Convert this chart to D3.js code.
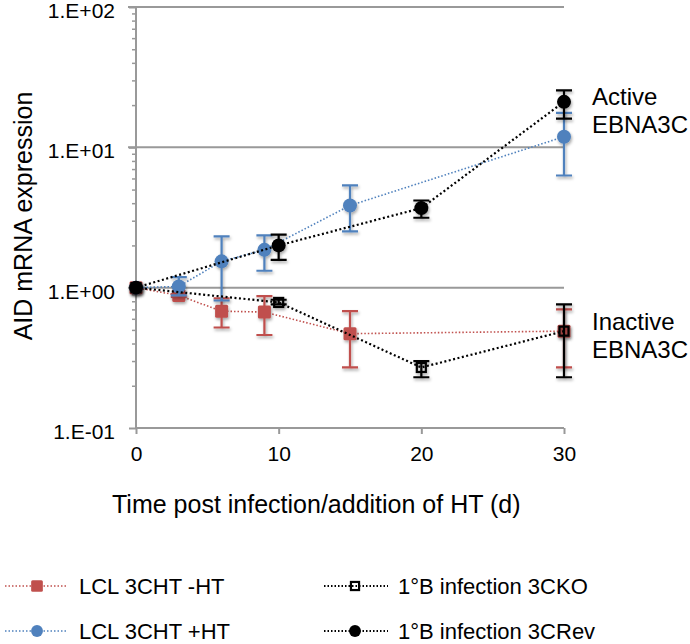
<!DOCTYPE html>
<html>
<head>
<meta charset="utf-8">
<script src="https://cdn.jsdelivr.net/npm/d3@7"></script>
<style>
  html, body { margin: 0; padding: 0; background: #fff; }
  svg { display: block; font-family: "Liberation Sans", Arial, sans-serif; }
</style>
</head>
<body>
<svg id="chart" width="690" height="644"></svg>
<script>
// ---- data ----
const redX  = [0, 3, 6, 9, 15, 30];
const redY  = [1.0, 0.88, 0.68, 0.67, 0.47, 0.49];
const redLo = [1.0, 0.86, 0.52, 0.46, 0.27, 0.27];
const redHi = [1.0, 0.90, 0.84, 0.87, 0.68, 0.70];

const blueX  = [0, 3, 6, 9, 15, 30];
const blueY  = [1.0, 1.02, 1.54, 1.86, 3.85, 11.9];
const blueLo = [1.0, 0.88, 0.81, 1.32, 2.52, 6.3];
const blueHi = [1.0, 1.19, 2.32, 2.36, 5.35, 17.6];

const koX  = [0, 10, 20, 30];
const koY  = [1.0, 0.785, 0.27, 0.49];
const koLo = [1.0, 0.76, 0.23, 0.23];
const koHi = [1.0, 0.82, 0.30, 0.76];

const revX  = [0, 10, 20, 30];
const revY  = [1.0, 2.0, 3.69, 21.1];
const revLo = [1.0, 1.58, 3.15, 16.0];
const revHi = [1.0, 2.39, 4.18, 25.5];

const seriesNames = ["LCL 3CHT -HT", "LCL 3CHT +HT", "1°B infection 3CKO", "1°B infection 3CRev"];
const xTicks = [0, 10, 20, 30];
const yMajor = [0.1, 1, 10, 100];
const yLabels = ["1.E-01", "1.E+00", "1.E+01", "1.E+02"];
const xTitle = "Time post infection/addition of HT (d)";
const yTitle = "AID mRNA expression";
const annotActive = ["Active", "EBNA3C"];
const annotInactive = ["Inactive", "EBNA3C"];

// ---- layout ----
const svg = d3.select("#chart");
const x = d3.scaleLinear().domain([0, 30]).range([136, 564]);
const y = d3.scaleLog().domain([0.1, 100]).range([428, 7]);
const grey = "#999999";

const defs = svg.append("defs");
const f = defs.append("filter").attr("id", "sh").attr("x", "-50%").attr("y", "-50%").attr("width", "200%").attr("height", "200%");
f.append("feDropShadow").attr("dx", 1).attr("dy", 2).attr("stdDeviation", 1.6)
  .attr("flood-color", "#000").attr("flood-opacity", 0.35);

// gridlines
svg.append("g").selectAll("line").data([1, 10, 100]).join("line")
  .attr("x1", 128).attr("x2", x(30))
  .attr("y1", d => y(d)).attr("y2", d => y(d))
  .attr("stroke", grey).attr("stroke-width", 2);

// minor ticks
const minor = [];
[0.1, 1, 10].forEach(b => { for (let k = 2; k <= 9; k++) minor.push(b * k); });
const yMinorAxis = d3.axisLeft(y).tickValues(minor).tickSize(4).tickFormat("");
const gMin = svg.append("g").attr("transform", `translate(${x(0)},0)`).call(yMinorAxis);
gMin.selectAll("line").attr("stroke", grey).attr("stroke-width", 1.5);
gMin.select(".domain").remove();

const yAxis = d3.axisLeft(y).tickValues(yMajor).tickSize(7).tickPadding(14)
  .tickFormat((d, i) => yLabels[i]);
const gY = svg.append("g").attr("transform", `translate(${x(0)},0)`).call(yAxis);
gY.select(".domain").attr("stroke", grey).attr("stroke-width", 2).attr("d", `M0,${y(0.1)}V${y(100)}`);
gY.selectAll(".tick line").attr("stroke", grey).attr("stroke-width", 2);
gY.selectAll(".tick text").attr("font-size", 21).attr("fill", "#000")
  .attr("font-family", "Liberation Sans, Arial, sans-serif").attr("dy", "0.5em");

const xAxis = d3.axisBottom(x).tickValues(xTicks).tickSize(6).tickPadding(12);
const gX = svg.append("g").attr("transform", `translate(0,${y(0.1)})`).call(xAxis);
gX.select(".domain").attr("stroke", grey).attr("stroke-width", 2).attr("d", `M${x(0)},0H${x(30)}`);
gX.selectAll(".tick line").attr("stroke", grey).attr("stroke-width", 2);
gX.selectAll(".tick text").attr("font-size", 21).attr("fill", "#000")
  .attr("font-family", "Liberation Sans, Arial, sans-serif");

// titles
svg.append("text").attr("x", 112).attr("y", 513).attr("font-size", 25).text(xTitle);
svg.append("text").attr("transform", "translate(32,216) rotate(-90)")
  .attr("text-anchor", "middle").attr("font-size", 25).text(yTitle);

// annotations
svg.append("g").selectAll("text").data(annotActive).join("text")
  .attr("x", 592).attr("y", (d, i) => 105 + i * 28).attr("font-size", 24).text(d => d);
svg.append("g").selectAll("text").data(annotInactive).join("text")
  .attr("x", 592).attr("y", (d, i) => 330 + i * 28).attr("font-size", 24).text(d => d);

// ---- series ----
const series = [
  { xs: redX, ys: redY, lo: redLo, hi: redHi, color: "#c0504d", marker: "square", dash: "1.5,2", lw: 1.6 },
  { xs: blueX, ys: blueY, lo: blueLo, hi: blueHi, color: "#4f81bd", marker: "circle", dash: "1.5,2", lw: 1.6 },
  { xs: koX, ys: koY, lo: koLo, hi: koHi, color: "#000", marker: "open", dash: "2,2.5", lw: 2.2 },
  { xs: revX, ys: revY, lo: revLo, hi: revHi, color: "#000", marker: "circle", dash: "2,2.5", lw: 2.2 }
];

function drawMarker(g, type, color, cx, cy, big) {
  const s = big || 1;
  if (type === "square") {
    g.append("rect").attr("x", cx - 6.5 * s).attr("y", cy - 6.5 * s).attr("width", 13 * s).attr("height", 13 * s)
      .attr("rx", 1.5).attr("fill", color);
  } else if (type === "circle") {
    g.append("circle").attr("cx", cx).attr("cy", cy).attr("r", 7 * s).attr("fill", color);
  } else {
    g.append("rect").attr("x", cx - 4.5 * s).attr("y", cy - 4.5 * s).attr("width", 9 * s).attr("height", 9 * s)
      .attr("fill", "none").attr("stroke", color).attr("stroke-width", 2.2);
  }
}

const line = d3.line().x(d => x(d[0])).y(d => y(d[1]));
series.forEach(s => {
  const pts = s.xs.map((v, i) => [v, s.ys[i]]);
  svg.append("path").datum(pts).attr("d", line).attr("fill", "none")
    .attr("stroke", s.color).attr("stroke-width", s.lw).attr("stroke-dasharray", s.dash);
  const g = svg.append("g").attr("filter", "url(#sh)");
  s.xs.forEach((v, i) => {
    if (s.hi[i] !== s.lo[i]) {
      const cx = x(v);
      g.append("path")
        .attr("d", `M${cx},${y(s.lo[i])}V${y(s.hi[i])}M${cx - 8},${y(s.lo[i])}H${cx + 8}M${cx - 8},${y(s.hi[i])}H${cx + 8}`)
        .attr("stroke", s.color).attr("stroke-width", 2.2).attr("fill", "none");
    }
  });
  s.xs.forEach((v, i) => drawMarker(g, s.marker, s.color, x(v), y(s.ys[i])));
});

// ---- legend ----
const legendPos = [
  { lx1: 5, lx2: 67, mx: 37, tx: 79, cy: 586 },
  { lx1: 5, lx2: 67, mx: 37, tx: 79, cy: 631 },
  { lx1: 324, lx2: 388, mx: 355, tx: 398, cy: 586 },
  { lx1: 324, lx2: 388, mx: 355, tx: 398, cy: 631 }
];
seriesNames.forEach((name, i) => {
  const s = series[i], p = legendPos[i];
  const g = svg.append("g");
  g.append("line").attr("x1", p.lx1).attr("x2", p.lx2).attr("y1", p.cy).attr("y2", p.cy)
    .attr("stroke", s.color).attr("stroke-width", s.lw > 2 ? 1.8 : 1.4).attr("stroke-dasharray", "1.5,2");
  drawMarker(g, s.marker, s.color, p.mx, p.cy, s.marker === "circle" ? 0.85 : 0.9);
  g.append("text").attr("x", p.tx).attr("y", p.cy + 8).attr("font-size", 22).text(name);
});
</script>
</body>
</html>
